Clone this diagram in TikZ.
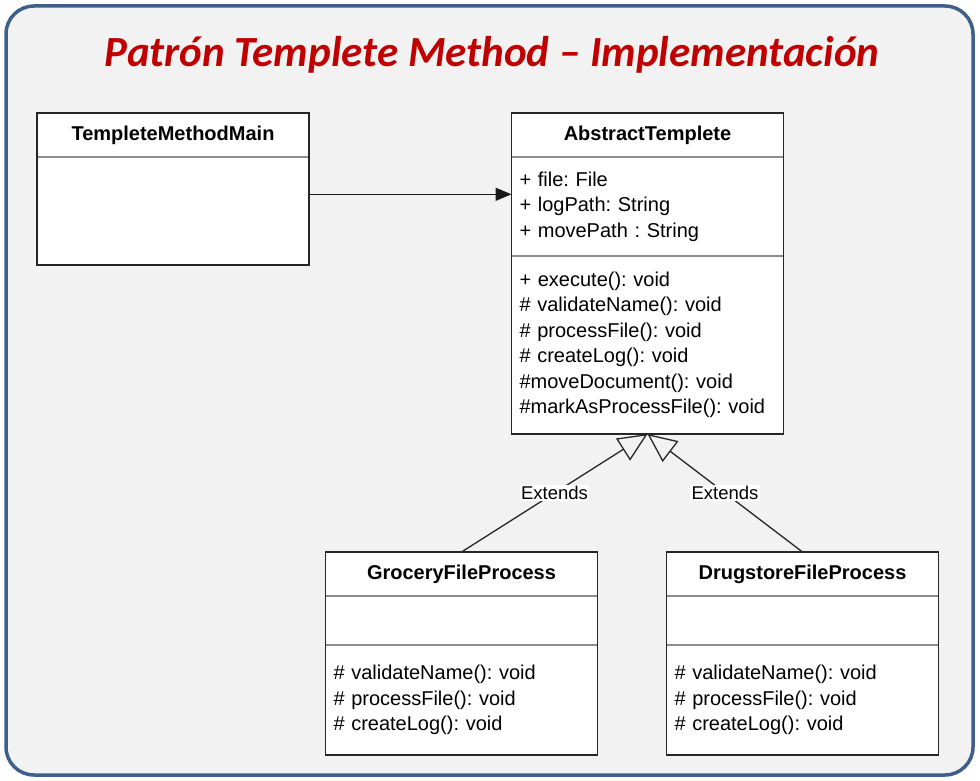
\documentclass[tikz,border=0pt]{standalone}
\usepackage{fontspec}
\setmainfont{Liberation Sans}
\newfontfamily\titlefont{Carlito}
\usetikzlibrary{positioning,arrows.meta}
\definecolor{framecol}{RGB}{62,95,138}
\definecolor{bgcol}{RGB}{242,242,242}
\definecolor{titlecol}{RGB}{192,0,0}
\frenchspacing

\begin{document}
\begin{tikzpicture}[x=1pt,y=-1pt,node distance=0pt,
	class head/.style={draw=black!45,line width=1.2pt,fill=white,minimum width=272pt,minimum height=44pt,inner sep=0pt,outer sep=0pt,font=\fontsize{20}{25.5}\selectfont\bfseries},
	class part/.style={draw=black!45,line width=1.2pt,fill=white,minimum width=272pt,text width=256pt,inner xsep=8pt,inner ysep=0pt,outer sep=0pt,align=left,font=\fontsize{20}{25.5}\selectfont},
	class frame/.style={draw=black!85,line width=1.5pt},
	assoc/.style={-{Triangle[length=16pt,width=13pt]},line width=1.5pt,draw=black!90},
	extends/.style={-{Triangle[open,length=29pt,width=26pt]},line width=1.3pt,draw=black!85},
	ext label/.style={fill=white,inner sep=1.5pt,font=\fontsize{18.5}{18.5}\selectfont}]
	
	\useasboundingbox (0,0) rectangle (980,781);
	\draw[framecol,fill=bgcol,line width=3.5pt,rounded corners=28pt] (6,6) rectangle (973,775);
	
	\node[font=\titlefont\fontsize{43}{43}\selectfont\bfseries\itshape,text=titlecol] (title) at (492,55) {Patrón Templete Method – Implementación};
	
	% main class
	\node[class head] (mainHead) at (173,135) {TempleteMethodMain};
	\node[class part,minimum height=108pt] (mainBody) [below=of mainHead] { };
	\draw[class frame] (mainHead.north west) rectangle (mainBody.south east);
	
	% abstract class
	\node[class head] (absHead) at (647.5,135) {AbstractTemplete};
	\node[class part,minimum height=99pt] (absFields) [below=of absHead] {+ file: File\\+ logPath: String\\+ movePath : String};
	\node[class part,minimum height=178pt] (absOps) [below=of absFields] {+ execute(): void\\\# validateName(): void\\\# processFile(): void\\\# createLog(): void\\\#moveDocument(): void\\\#markAsProcessFile(): void};
	\draw[class frame] (absHead.north west) rectangle (absOps.south east);
	
	% subclasses
	\node[class head] (groHead) at (461.5,574) {GroceryFileProcess};
	\node[class part,minimum height=49pt] (groFields) [below=of groHead] { };
	\node[class part,minimum height=110pt] (groOps) [below=of groFields] {\# validateName(): void\\\# processFile(): void\\\# createLog(): void};
	\draw[class frame] (groHead.north west) rectangle (groOps.south east);
	
	\node[class head] (drugHead) at (802.5,574) {DrugstoreFileProcess};
	\node[class part,minimum height=49pt] (drugFields) [below=of drugHead] { };
	\node[class part,minimum height=110pt] (drugOps) [below=of drugFields] {\# validateName(): void\\\# processFile(): void\\\# createLog(): void};
	\draw[class frame] (drugHead.north west) rectangle (drugOps.south east);
	
	\draw[assoc] (mainBody.7) -- (mainBody.7 -| absFields.west);
	
	\path
	(groHead.north) edge[extends] node[ext label] {Extends} (absOps.south)
	(drugHead.north) edge[extends] node[ext label] {Extends} (absOps.south);
	
\end{tikzpicture}
\end{document}
